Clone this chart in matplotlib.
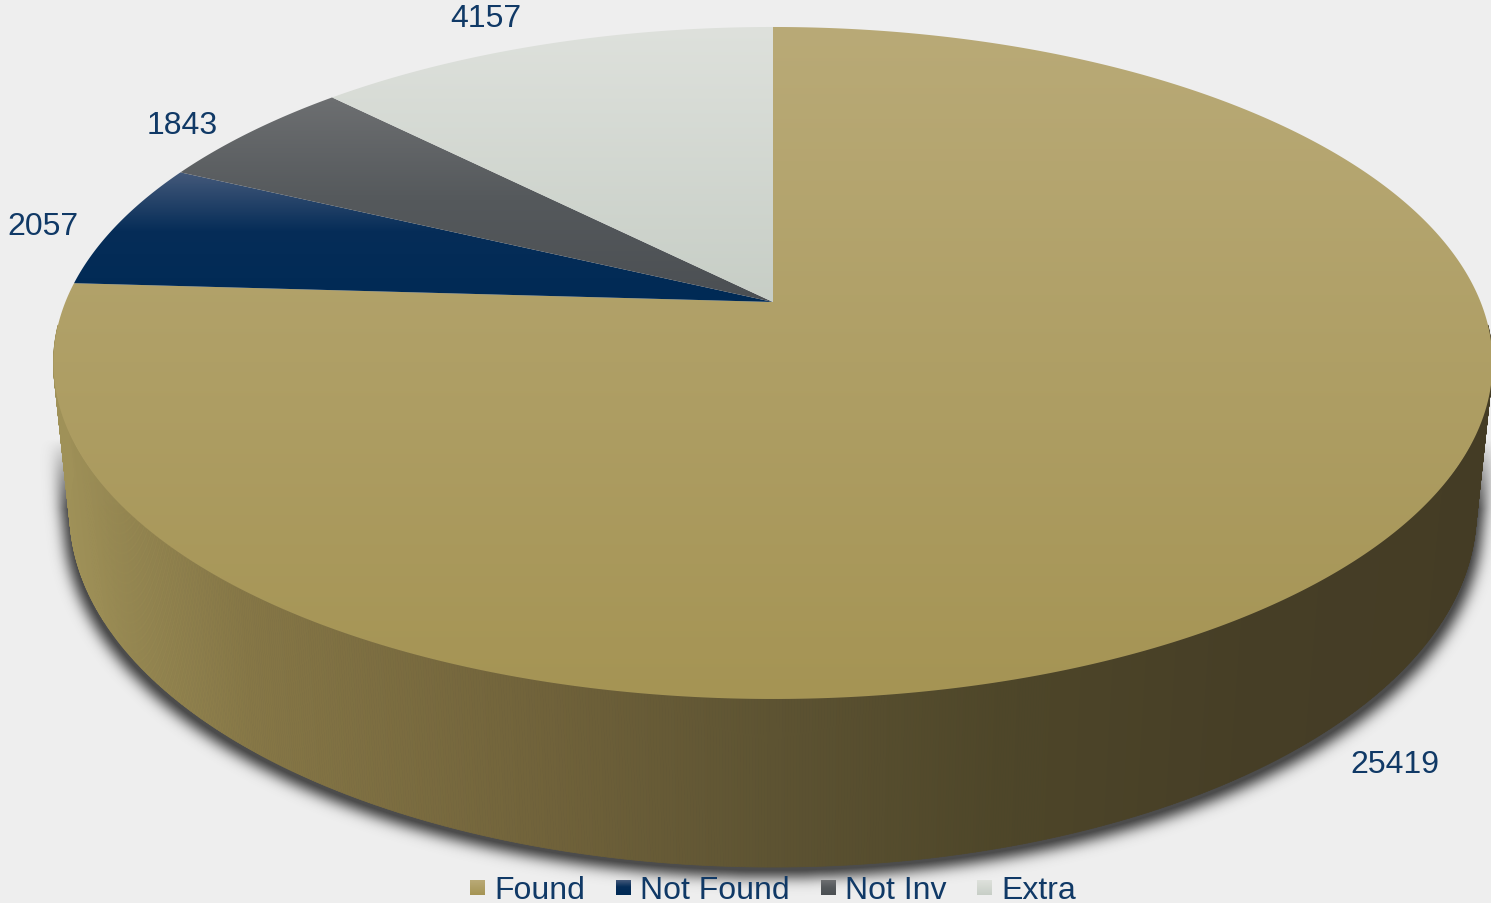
import numpy as np
import matplotlib
matplotlib.use("Agg")
import matplotlib.pyplot as plt
from matplotlib.path import Path
from matplotlib.patches import PathPatch
from matplotlib.collections import PolyCollection
from matplotlib.colors import to_rgb

# ---------------- data ----------------
categories = ["Found", "Not Found", "Not Inv", "Extra"]
values = [25419, 2057, 1843, 4157]
label_texts = ["25419", "2057", "1843", "4157"]

# vertical gradients of the top faces (position 0=top .. 1=bottom, colour)
face_grad = [
    [(0.0, "#b9aa77"), (1.0, "#a59454")],
    [(0.0, "#44597a"), (0.45, "#062d58"), (1.0, "#002a55")],
    [(0.0, "#6d6f71"), (0.5, "#55595c"), (1.0, "#4b4f53")],
    [(0.0, "#dee1dc"), (1.0, "#c7cec6")],
]
# horizontal gradient of the side wall (pixel x, colour)
side_stops = [(55, "#a09259"), (250, "#867746"), (550, "#70623a"), (773, "#5d5332"),
              (1000, "#4e4629"), (1250, "#463e26"), (1495, "#443c25")]

W, H = 1491, 904
BG = "#eeeeee"
TEXT = "#103966"
FONT = "Liberation Sans"
FS = 23
# pixel nudges of the data labels (layout only)
label_nudge = [(0, -13), (1, 10), (-13, 12), (-33, -1)]

# ---------------- perspective camera ----------------
CX, CY = 773.0, 303.0
SIN_A = 0.4592
COS_A = np.sqrt(1 - SIN_A ** 2)
DIST = 4.894
FOC = 3463.0
THICK = 0.239


def proj(X, Y, Z):
    depth = DIST + Z * COS_A - Y * SIN_A
    up = Z * SIN_A + Y * COS_A
    return CX + FOC * X / depth, CY - FOC * up / depth


def interp_stops(stops, t):
    pos = np.array([s[0] for s in stops], float)
    cols = np.array([to_rgb(s[1]) for s in stops])
    return np.stack([np.interp(t, pos, cols[:, i]) for i in range(3)], axis=-1)


fig = plt.figure(figsize=(W / 100, H / 100), dpi=100, facecolor=BG)
ax = fig.add_axes([0, 0, 1, 1])
ax.set_facecolor(BG)
ax.axis("off")


def grad_fill(path, stops, zorder):
    verts = path.vertices
    x0, x1 = verts[:, 0].min(), verts[:, 0].max()
    y0, y1 = verts[:, 1].min(), verts[:, 1].max()
    t = np.linspace(0, 1, 256)
    img = interp_stops(stops, t)[:, None, :]
    im = ax.imshow(img, extent=(x0, x1, y1, y0), aspect="auto", zorder=zorder,
                   interpolation="bilinear")
    patch = PathPatch(path, fc="none", ec="none", transform=ax.transData)
    ax.add_patch(patch)
    im.set_clip_path(patch)


# ---------------- shadow ----------------
phi_all = np.radians(np.linspace(0, 360, 721))
tx, ty = proj(np.sin(phi_all), 0.0, np.cos(phi_all))
bx, by = proj(np.sin(phi_all), -THICK, np.cos(phi_all))
pts = np.vstack([np.column_stack([tx, ty]), np.column_stack([bx, by])])


def convex_hull(p):
    p = sorted(map(tuple, p))

    def cross(o, a, b):
        return (a[0] - o[0]) * (b[1] - o[1]) - (a[1] - o[1]) * (b[0] - o[0])
    lower, upper = [], []
    for q in p:
        while len(lower) >= 2 and cross(lower[-2], lower[-1], q) <= 0:
            lower.pop()
        lower.append(q)
    for q in reversed(p):
        while len(upper) >= 2 and cross(upper[-2], upper[-1], q) <= 0:
            upper.pop()
        upper.append(q)
    return np.array(lower[:-1] + upper[:-1])


hull = convex_hull(pts)
hull_s = hull.copy()
hull_s[:, 0] = CX + (hull_s[:, 0] - CX) * 1.008
hull_s[:, 1] = hull_s[:, 1] + 10.0
hpath = Path(hull_s)
gx, gy = np.meshgrid(np.arange(W) + 0.5, np.arange(H) + 0.5)
mask = hpath.contains_points(np.column_stack([gx.ravel(), gy.ravel()])).reshape(H, W).astype(float)


def blur(a, s):
    r = int(3 * s) + 1
    k = np.exp(-0.5 * (np.arange(-r, r + 1) / s) ** 2)
    k /= k.sum()
    a = np.apply_along_axis(lambda m: np.convolve(m, k, mode="same"), 0, a)
    a = np.apply_along_axis(lambda m: np.convolve(m, k, mode="same"), 1, a)
    return a


sh = blur(mask, 7.0)
fade = np.clip((gy - 440.0) / 70.0, 0, 1)
shadow = np.zeros((H, W, 4))
shadow[..., :3] = 0.30
shadow[..., 3] = np.clip(sh * 1.2, 0, 1) * fade
ax.imshow(shadow, extent=(0, W, H, 0), aspect="auto", zorder=1, interpolation="bilinear")

# ---------------- side wall ----------------
phis = np.radians(np.linspace(94, 266, 861))
sx_t, sy_t = proj(np.sin(phis), 0.0, np.cos(phis))
sx_b, sy_b = proj(np.sin(phis), -THICK, np.cos(phis))
quads, cols = [], []
for i in range(len(phis) - 1):
    q = [(sx_t[i], sy_t[i]), (sx_t[i + 1], sy_t[i + 1]), (sx_b[i + 1], sy_b[i + 1]), (sx_b[i], sy_b[i])]
    quads.append(q)
    mx = np.mean([v[0] for v in q])
    cols.append(interp_stops(side_stops, mx))
ax.add_collection(PolyCollection(quads, facecolors=cols, edgecolors=cols, linewidths=0.5, zorder=2))

# ---------------- top faces ----------------
total = float(sum(values))
cum = np.concatenate([[0], np.cumsum(values)]) / total * 360.0
for i, cat in enumerate(categories):
    a0, a1 = cum[i], cum[i + 1]
    ph = np.radians(np.linspace(a0, a1, max(int((a1 - a0) * 4), 8)))
    ax_, ay_ = proj(np.sin(ph), 0.0, np.cos(ph))
    verts = np.vstack([[proj(0.0, 0.0, 0.0)], np.column_stack([ax_, ay_]), [proj(0.0, 0.0, 0.0)]])
    path = Path(verts, closed=True)
    grad_fill(path, face_grad[i], zorder=3)

# ---------------- data labels ----------------
for i, txt in enumerate(label_texts):
    mid = np.radians((cum[i] + cum[i + 1]) / 2)
    r = 1.12
    yv = -THICK if i == 0 else 0.0
    lx, ly = proj(r * np.sin(mid), yv, r * np.cos(mid))
    ax.text(lx + label_nudge[i][0], ly + label_nudge[i][1], txt, ha="center", va="center",
            fontsize=FS, color=TEXT, family=FONT, zorder=6)

# ---------------- legend ----------------
sq = 15
gap_sq = 9
gap_item = 31
renderer = fig.canvas.get_renderer()
texts = []
widths = []
for cat in categories:
    t = ax.text(0, 899, cat, ha="left", va="baseline", fontsize=FS, color=TEXT,
                family=FONT, zorder=6)
    bb = t.get_window_extent(renderer=renderer)
    texts.append(t)
    widths.append(bb.width)
total_w = sum(sq + gap_sq + w for w in widths) + gap_item * (len(categories) - 1)
x = CX - total_w / 2
for i, cat in enumerate(categories):
    sqpath = Path([(x, 881), (x + sq, 881), (x + sq, 881 + sq), (x, 881 + sq), (x, 881)], closed=True)
    grad_fill(sqpath, face_grad[i], zorder=6)
    texts[i].set_x(x + sq + gap_sq)
    x += sq + gap_sq + widths[i] + gap_item

ax.set_xlim(0, W)
ax.set_ylim(H, 0)
ax.set_aspect("auto")
fig.savefig("out.png", dpi=100, facecolor=BG)
